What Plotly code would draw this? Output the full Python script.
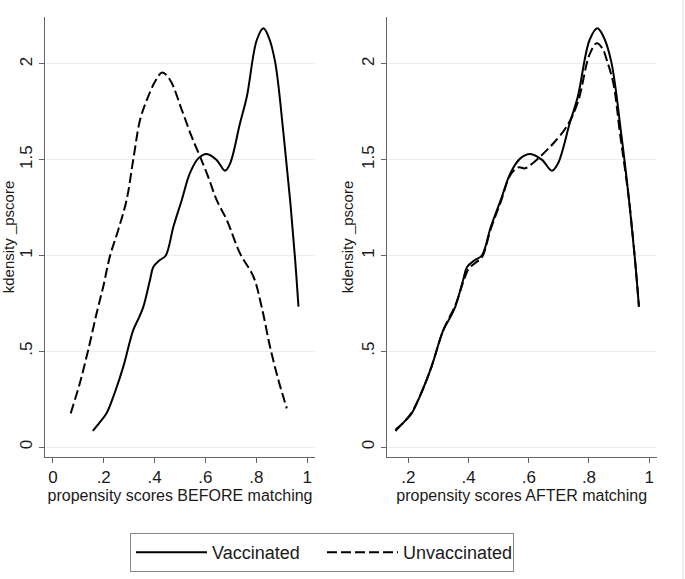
import plotly.graph_objects as go

# Vaccinated kernel density (same group before and after matching)
vac_x = [0.157, 0.185, 0.211, 0.245, 0.277, 0.316, 0.340, 0.356, 0.382, 0.395, 0.421, 0.444,
         0.474, 0.507, 0.539, 0.572, 0.605, 0.644, 0.677, 0.697, 0.736, 0.763, 0.802, 0.828,
         0.848, 0.874, 0.907, 0.933, 0.953, 0.966]
vac_y = [0.084, 0.13, 0.176, 0.29, 0.42, 0.61, 0.68, 0.733, 0.872, 0.94, 0.976, 1.0,
         1.15, 1.29, 1.43, 1.507, 1.53, 1.499, 1.443, 1.48, 1.69, 1.83, 2.125, 2.186,
         2.143, 2.012, 1.637, 1.29, 0.976, 0.733]

# Unvaccinated before matching
unv_before_x = [0.07, 0.106, 0.139, 0.172, 0.198, 0.224, 0.257, 0.29, 0.316, 0.343, 0.369,
                0.402, 0.43, 0.461, 0.507, 0.546, 0.579, 0.611, 0.644, 0.684, 0.736, 0.789,
                0.821, 0.854, 0.887, 0.92]
unv_before_y = [0.176, 0.333, 0.507, 0.698, 0.837, 0.994, 1.133, 1.29, 1.499, 1.708, 1.81,
                1.908, 1.955, 1.916, 1.76, 1.62, 1.516, 1.41, 1.29, 1.185, 1.011, 0.889,
                0.733, 0.524, 0.35, 0.202]

# Unvaccinated after matching
unv_after_x = [0.157, 0.185, 0.211, 0.245, 0.277, 0.316, 0.356, 0.382, 0.40, 0.421, 0.444,
               0.474, 0.507, 0.539, 0.565, 0.588, 0.612, 0.638, 0.66, 0.682, 0.726, 0.763,
               0.802, 0.826, 0.845, 0.859, 0.881, 0.903, 0.933, 0.953, 0.966]
unv_after_y = [0.09, 0.13, 0.18, 0.29, 0.42, 0.61, 0.74, 0.86, 0.93, 0.96, 0.99,
               1.14, 1.28, 1.42, 1.46, 1.455, 1.48, 1.516, 1.55, 1.586, 1.673, 1.80,
               2.05, 2.108, 2.08, 2.021, 1.899, 1.637, 1.29, 0.976, 0.733]

x_ticks_left = [0, 0.2, 0.4, 0.6, 0.8, 1]
x_text_left = ["0", ".2", ".4", ".6", ".8", "1"]
x_ticks_right = [0.2, 0.4, 0.6, 0.8, 1]
x_text_right = [".2", ".4", ".6", ".8", "1"]
y_ticks = [0, 0.5, 1, 1.5, 2]
y_text = ["0", ".5", "1", "1.5", "2"]

FONT = "Liberation Sans, Arial, sans-serif"
DASH = "10px,4px"

fig = go.Figure()
fig.add_trace(go.Scatter(x=vac_x, y=vac_y, mode="lines", name="Vaccinated",
                         line=dict(color="black", width=2, shape="spline"),
                         xaxis="x", yaxis="y", legendrank=1))
fig.add_trace(go.Scatter(x=unv_before_x, y=unv_before_y, mode="lines", name="Unvaccinated",
                         line=dict(color="black", width=2, dash=DASH, shape="spline"),
                         xaxis="x", yaxis="y", legendrank=2))
fig.add_trace(go.Scatter(x=vac_x, y=vac_y, mode="lines", name="Vaccinated", showlegend=False,
                         line=dict(color="black", width=2, shape="spline"),
                         xaxis="x2", yaxis="y2"))
fig.add_trace(go.Scatter(x=unv_after_x, y=unv_after_y, mode="lines", name="Unvaccinated",
                         showlegend=False,
                         line=dict(color="black", width=2, dash=DASH, shape="spline"),
                         xaxis="x2", yaxis="y2"))

W, H = 685, 579
ydom = [(H - 457) / H, (H - 17) / H]
tickfont = dict(family=FONT, size=17, color="#1a1a1a")
titlefont = dict(family=FONT, size=16, color="#1a1a1a")
ytitlefont = dict(family=FONT, size=15, color="#1a1a1a")
axis_common = dict(showline=True, linecolor="#666666", linewidth=1, ticks="outside",
                   ticklen=5, tickcolor="#666666", zeroline=False, automargin=False,
                   tickfont=tickfont)

fig.update_layout(
    width=W, height=H,
    margin=dict(l=0, r=0, t=0, b=0, autoexpand=False),
    paper_bgcolor="white", plot_bgcolor="white",
    font=dict(family=FONT, color="#1a1a1a"),
    xaxis=dict(domain=[45 / W, 315 / W], range=[-0.031, 1.031], tickvals=x_ticks_left,
               ticktext=x_text_left, showgrid=False, anchor="y",
               title=dict(text="propensity scores BEFORE matching", font=titlefont, standoff=0),
               **axis_common),
    yaxis=dict(domain=ydom, range=[-0.052, 2.245], tickvals=y_ticks, ticktext=y_text,
               tickangle=-90, showgrid=True, gridcolor="#e6eff1", gridwidth=1, anchor="x",
               title=dict(text="kdensity _pscore", font=ytitlefont, standoff=5),
               **axis_common),
    xaxis2=dict(domain=[386.7 / W, 656.7 / W], range=[0.128, 1.025], tickvals=x_ticks_right,
                ticktext=x_text_right, showgrid=False, anchor="y2",
                title=dict(text="propensity scores AFTER matching", font=titlefont, standoff=0),
                **axis_common),
    yaxis2=dict(domain=ydom, range=[-0.052, 2.245], tickvals=y_ticks, ticktext=y_text,
                tickangle=-90, showgrid=True, gridcolor="#e6eff1", gridwidth=1, anchor="x2",
                title=dict(text="kdensity _pscore", font=ytitlefont, standoff=1),
                **axis_common),
    legend=dict(orientation="h", x=130 / W, y=(H - 533) / H, xanchor="left", yanchor="top",
                bordercolor="#888888", borderwidth=1, bgcolor="white",
                font=dict(family=FONT, size=18, color="#1a1a1a"),
                itemwidth=71, entrywidth=105, tracegroupgap=0),
    shapes=[dict(type="line", xref="paper", yref="paper", x0=683 / W, x1=683 / W,
                 y0=0, y1=1, line=dict(color="#dddddd", width=1))],
)

fig.write_html("out.html", config={"displayModeBar": False},
               post_script="document.body.style.margin='0';")
